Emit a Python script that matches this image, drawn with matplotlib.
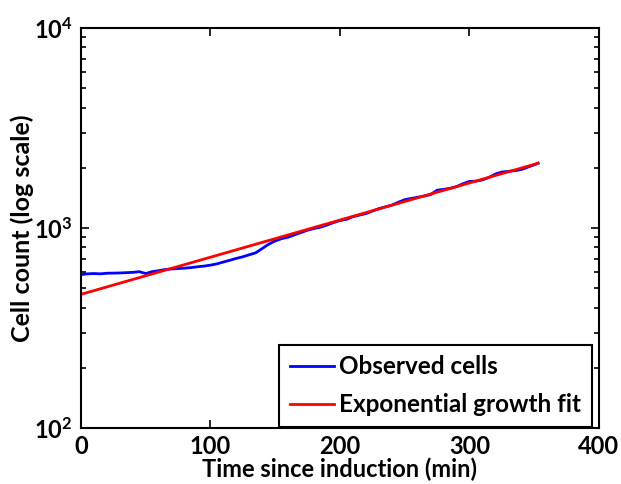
import numpy as np
import matplotlib.pyplot as plt

# Observed cell counts, sampled every 5 min after induction
time_min = [0, 5, 10, 15, 20, 25, 30, 35, 40, 45, 50, 55, 60, 65, 70, 75, 80, 85,
            90, 95, 100, 105, 110, 115, 120, 125, 130, 135, 140, 145, 150, 155,
            160, 165, 170, 175, 180, 185, 190, 195, 200, 205, 210, 215, 220, 225,
            230, 235, 240, 245, 250, 255, 260, 265, 270, 275, 280, 285, 290, 295,
            300, 305, 310, 315, 320, 325, 330, 335, 340, 345, 350, 353]
observed_cells = [585, 590, 592, 590, 594, 595, 596, 598, 600, 605, 592, 605, 612,
                  620, 624, 627, 630, 634, 640, 645, 652, 662, 676, 690, 705, 718,
                  735, 752, 790, 830, 862, 885, 900, 925, 950, 975, 995, 1010, 1035,
                  1065, 1090, 1105, 1140, 1160, 1180, 1215, 1250, 1275, 1300, 1345,
                  1385, 1405, 1425, 1445, 1470, 1545, 1560, 1580, 1610, 1665, 1710,
                  1715, 1740, 1790, 1860, 1905, 1920, 1935, 1960, 2015, 2070, 2110]

# Exponential growth fit N(t) = N0 * exp(r t)
fit_n0 = 466.0
fit_rate = 0.004275   # per minute

x_ticks = [0, 100, 200, 300, 400]
y_ticks = [1e2, 1e3, 1e4]
y_tick_labels = [r'$\mathbf{10^{2}}$', r'$\mathbf{10^{3}}$', r'$\mathbf{10^{4}}$']

plt.rcParams['font.family'] = ['Lato', 'DejaVu Sans']
plt.rcParams['font.weight'] = 'bold'
plt.rcParams['mathtext.fontset'] = 'custom'
plt.rcParams['mathtext.rm'] = 'Lato:bold'
plt.rcParams['mathtext.bf'] = 'Lato:bold'

fig = plt.figure(figsize=(6.21, 4.84), dpi=100)
ax = fig.add_axes([0.1304, 0.1157, 0.8341, 0.8264])

t = np.array(time_min, dtype=float)
fit_vals = fit_n0 * np.exp(fit_rate * t)

ax.plot(t, observed_cells, color='#0000ff', linewidth=2, label='Observed cells')
ax.plot(t, fit_vals, color='#ff0000', linewidth=2, label='Exponential growth fit')

ax.set_yscale('log')
ax.set_xlim(0, 400)
ax.set_ylim(1e2, 1e4)
ax.set_xticks(x_ticks)
ax.set_xticklabels([str(v) for v in x_ticks])
ax.set_yticks(y_ticks)
ax.set_yticklabels(y_tick_labels)

ax.tick_params(which='both', direction='in', top=True, right=True,
               labelsize=17, width=1.2)
ax.tick_params(axis='x', pad=5)
ax.tick_params(axis='y', pad=6)
ax.tick_params(which='major', length=6)
ax.tick_params(which='minor', length=3.5)
for s in ax.spines.values():
    s.set_linewidth(1.5)

ax.set_xlabel('Time since induction (min)', fontsize=17, fontweight='bold', labelpad=0)
ax.set_ylabel('Cell count (log scale)', fontsize=18, fontweight='bold', labelpad=0)

leg = ax.legend(loc='lower right', bbox_to_anchor=(1 - 7 / 518, 0.0025),
                borderaxespad=0, fancybox=False, framealpha=1,
                edgecolor='black', fontsize=17.5, handlelength=1.8,
                handletextpad=0.2, borderpad=0.45, labelspacing=0.6)
leg.get_frame().set_linewidth(1.5)

fig.savefig('out.png', dpi=100)
